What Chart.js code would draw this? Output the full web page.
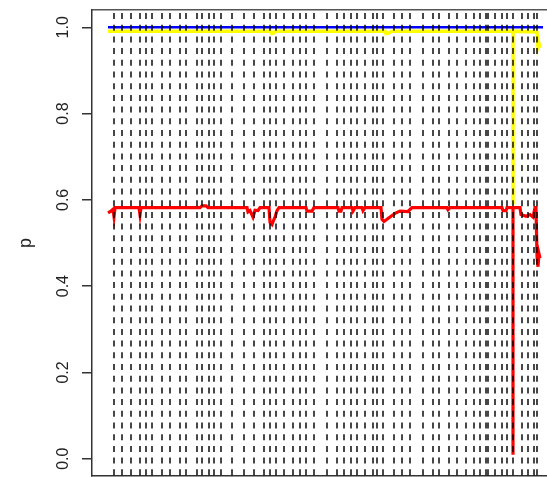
<!DOCTYPE html>
<html>
<head>
<meta charset="utf-8">
<script src="https://cdn.jsdelivr.net/npm/chart.js@4.4.0/dist/chart.umd.min.js"></script>
<style>
  html, body { margin: 0; padding: 0; background: #fff; overflow: hidden; }
  #wrap { width: 560px; height: 477px; }
</style>
</head>
<body>
<div id="wrap"><canvas id="pChart" width="560" height="477"></canvas></div>
<script>
// y range as R pads it (4% either side of 0..1)
var yMin = -0.04, yMax = 1.04;
var yTicks = [0, 0.2, 0.4, 0.6, 0.8, 1.0];

// positions of the dashed break lines
var breaks = [6, 14, 23, 32, 38, 44, 54, 62, 72, 78, 89, 94, 101, 106, 113, 124,
  136, 146, 156, 162, 168, 176, 185, 192, 198, 206, 219, 229, 236, 243, 249, 257,
  265, 269, 275, 286, 294, 302, 315, 325, 331, 341, 349, 358, 366, 372, 378, 380,
  387, 394, 399, 405, 414, 420, 426, 429];

// blue series
var blueT = [0, 435];
var blueP = [1.0, 1.0];

// yellow series
var yellowT = [0, 163, 164, 166, 168, 277, 278, 281, 284, 405, 405, 405, 428, 429, 430, 431, 432];
var yellowP = [0.991, 0.991, 0.985, 0.987, 0.991, 0.991, 0.985, 0.987, 0.991, 0.991, 0.589, 0.991,
  0.989, 0.988, 0.955, 0.962, 0.952];

// red series
var redT = [0, 3, 5, 6, 7, 31, 32, 33, 92, 94, 98, 100, 139, 140, 142, 145, 147, 150, 152,
  161, 162, 164, 166, 167, 169, 171, 198, 199, 204, 206, 230, 231, 233, 234, 244, 245, 247,
  254, 255, 257, 273, 274, 276, 279, 283, 288, 292, 300, 304, 339, 340, 342, 394, 395, 398,
  399, 405, 405, 405, 412, 413, 418, 422, 425, 427, 428, 429, 430, 431, 432];
var redP = [0.570, 0.574, 0.578, 0.561, 0.582, 0.582, 0.565, 0.582, 0.582, 0.586, 0.586, 0.582,
  0.582, 0.572, 0.575, 0.560, 0.576, 0.575, 0.582, 0.582, 0.548, 0.543, 0.555, 0.560, 0.575,
  0.582, 0.582, 0.574, 0.574, 0.582, 0.582, 0.574, 0.574, 0.582, 0.582, 0.574, 0.582, 0.582,
  0.575, 0.582, 0.582, 0.555, 0.550, 0.555, 0.562, 0.570, 0.574, 0.573, 0.582, 0.582, 0.577,
  0.582, 0.582, 0.575, 0.575, 0.582, 0.582, 0.009, 0.582, 0.582, 0.566, 0.562, 0.566, 0.560,
  0.582, 0.582, 0.470, 0.445, 0.475, 0.465];

function toPoints(ts, ps) {
  return ts.map(function (t, i) { return { x: t, y: ps[i] }; });
}

var ink = '#222';
var font = { family: '"Liberation Sans", Arial, sans-serif', size: 16 };

var datasets = breaks.map(function (b) {
  return {
    data: [{ x: b, y: yMax }, { x: b, y: yMin }],
    borderColor: 'rgba(0,0,0,0.8)',
    borderWidth: 1.8,
    borderDash: [6, 5.7],
    borderDashOffset: 8.7,
    pointRadius: 0,
    order: 0
  };
});
datasets.push({ data: toPoints(blueT, blueP), borderColor: '#0000ff', borderWidth: 2.5, pointRadius: 0, order: 1 });
datasets.push({ data: toPoints(yellowT, yellowP), borderColor: '#ffff00', borderWidth: 3.5, pointRadius: 0, order: 2 });
datasets.push({ data: toPoints(redT, redP), borderColor: '#ff0000', borderWidth: 3.2, pointRadius: 0, order: 3 });

new Chart(document.getElementById('pChart'), {
  type: 'line',
  data: { datasets: datasets },
  options: {
    responsive: false,
    animation: false,
    events: [],
    elements: { line: { tension: 0 } },
    layout: { padding: { left: 0, top: 10, right: 5, bottom: 1 } },
    plugins: { legend: { display: false }, tooltip: { enabled: false } },
    scales: {
      x: {
        type: 'linear', position: 'bottom', min: -16, max: 447,
        ticks: { display: false },
        grid: { display: false, drawTicks: false },
        border: { display: true, color: '#333', width: 1.5 }
      },
      xTop: {
        type: 'linear', axis: 'x', position: 'top', min: -16, max: 447,
        ticks: { display: false },
        grid: { display: false, drawTicks: false },
        border: { display: true, color: '#555', width: 1.5 }
      },
      y: {
        type: 'linear', min: yMin, max: yMax,
        afterBuildTicks: function (s) { s.ticks = yTicks.map(function (v) { return { value: v }; }); },
        afterFit: function (s) { s.width = 92; s.paddingTop = 0; s.paddingBottom = 0; },
        ticks: {
          minRotation: 90, maxRotation: 90, crossAlign: 'center', padding: 7,
          color: ink, font: font,
          callback: function (v) { return v.toFixed(1); }
        },
        grid: { drawOnChartArea: false, drawTicks: true, tickLength: 10, color: '#333', lineWidth: 1.5 },
        border: { display: true, color: '#333', width: 1.5 },
        title: { display: true, text: 'p', color: ink, font: { family: font.family, size: 18 }, padding: { top: 15, bottom: 0 } }
      }
    }
  }
});
</script>
</body>
</html>
